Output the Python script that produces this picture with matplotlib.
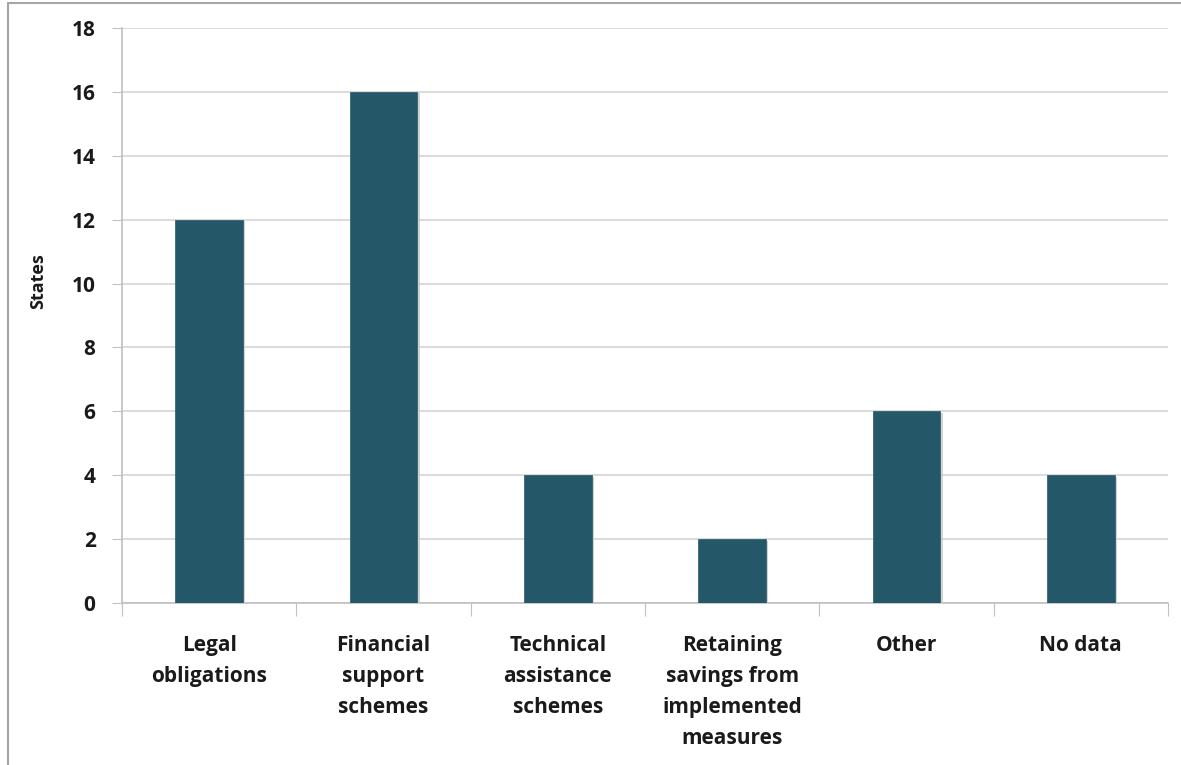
import matplotlib.pyplot as plt
import matplotlib.patheffects as pe
from matplotlib.patches import Rectangle
import numpy as np

categories = ["Legal\nobligations", "Financial\nsupport\nschemes", "Technical\nassistance\nschemes",
              "Retaining\nsavings from\nimplemented\nmeasures", "Other", "No data"]
values = [12, 16, 4, 2, 6, 4]
yticks = [0, 2, 4, 6, 8, 10, 12, 14, 16, 18]

plt.rcParams['font.family'] = ['Open Sans', 'DejaVu Sans']

W, H = 1181, 765
fig = plt.figure(figsize=(W / 100, H / 100), dpi=100)
ax = fig.add_axes([122 / W, 1 - 603 / H, (1168 - 122) / W, (603 - 28) / H])

# outer frame of the original chart
fig.add_artist(Rectangle((8 / W, -0.05), 1.1, 1 - 3 / H + 0.05, transform=fig.transFigure,
                         fill=False, edgecolor='#a6a6a6', linewidth=1.5))

x = np.arange(len(values))
bars = ax.bar(x, values, width=0.39, color='#245868', zorder=3,
              edgecolor='#245868', linewidth=0.5)
for b in bars:
    b.set_path_effects([pe.SimplePatchShadow(offset=(1.5, -1), shadow_rgbFace='#c8c8c8', alpha=0.8),
                        pe.Normal()])

ax.set_xlim(-0.5, len(values) - 0.5)
ax.set_ylim(0, 18)
ax.set_yticks(yticks)
ax.set_yticklabels([str(t) for t in yticks], fontsize=15, fontweight='bold', color='#1a1a1a')
ax.yaxis.grid(True, color='#d4d4d4', linewidth=1.2, zorder=0)
ax.tick_params(axis='y', length=7, color='#c0c0c0', pad=12)

ax.set_xticks(np.arange(len(values) + 1) - 0.5)
ax.set_xticklabels([])
ax.tick_params(axis='x', length=9, color='#c0c0c0', direction='out')
for xi, lab in zip(x, categories):
    ax.text(xi, -1.0, lab, ha='center', va='top', fontsize=15, fontweight='bold',
            color='#1a1a1a', linespacing=1.62, transform=ax.transData, clip_on=False)

for s in ['top', 'right']:
    ax.spines[s].set_visible(False)
ax.spines['left'].set_color('#c0c0c0')
ax.spines['bottom'].set_color('#c0c0c0')
ax.spines['left'].set_linewidth(1.2)
ax.spines['bottom'].set_linewidth(1.2)

ax.set_ylabel('States', fontsize=13, fontweight='bold', color='#1a1a1a')
ax.yaxis.set_label_coords(-0.0717, 0.56)

fig.savefig('out.png', dpi=100)
